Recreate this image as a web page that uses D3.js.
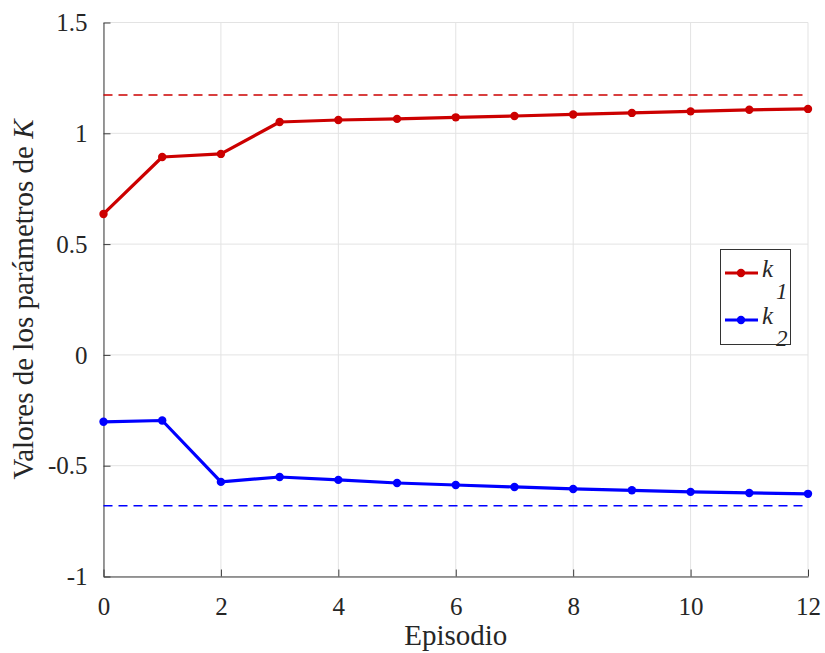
<!DOCTYPE html>
<html>
<head>
<meta charset="utf-8">
<script src="https://cdn.jsdelivr.net/npm/d3@7"></script>
</head>
<body>
<div id="chart"></div>
<script>
// data
var episodes = [0, 1, 2, 3, 4, 5, 6, 7, 8, 9, 10, 11, 12];
var k1 = [0.636, 0.893, 0.907, 1.051, 1.060, 1.065, 1.072, 1.078, 1.085, 1.092, 1.099, 1.106, 1.110];
var k2 = [-0.302, -0.296, -0.573, -0.551, -0.564, -0.578, -0.587, -0.596, -0.605, -0.611, -0.618, -0.623, -0.627];
var k1Ref = 1.173;
var k2Ref = -0.681;
var xTicks = [0, 2, 4, 6, 8, 10, 12];
var yTicks = [-1, -0.5, 0, 0.5, 1, 1.5];

function init() {
	d3.select("body").style("margin", "0px");
	var w = 825;
	var h = 653;
	var left = 103.5, right = 808, top = 22.5, bottom = 576.5;
	var red = "#cc0000";
	var blue = "#0000ff";
	var font = "Liberation Serif";
	var ink = "#262626";

	var xScale = d3.scaleLinear().domain([0, 12]).range([left, right]);
	var yScale = d3.scaleLinear().domain([-1, 1.5]).range([bottom, top]);

	var svg = d3.select("#chart").append("svg")
		.attr("width", w)
		.attr("height", h)
		.style("display", "block");

	// grid
	svg.append("g").selectAll("line")
		.data(xTicks)
		.enter().append("line")
		.attr("x1", function(d) { return xScale(d); })
		.attr("x2", function(d) { return xScale(d); })
		.attr("y1", top).attr("y2", bottom)
		.attr("stroke", "#e3e3e3").attr("stroke-width", 1);
	svg.append("g").selectAll("line")
		.data(yTicks)
		.enter().append("line")
		.attr("y1", function(d) { return yScale(d); })
		.attr("y2", function(d) { return yScale(d); })
		.attr("x1", left).attr("x2", right)
		.attr("stroke", "#e3e3e3").attr("stroke-width", 1);

	// axes
	var xAxis = d3.axisBottom(xScale).tickValues(xTicks).tickSizeInner(-7).tickSizeOuter(0).tickPadding(0)
		.tickFormat(d3.format("d"));
	var yAxis = d3.axisLeft(yScale).tickValues(yTicks).tickSizeInner(-7).tickSizeOuter(0).tickPadding(16)
		.tickFormat(function(d) { return String(d); });

	var gx = svg.append("g").attr("transform", "translate(0," + bottom + ")").call(xAxis);
	var gy = svg.append("g").attr("transform", "translate(" + left + ",0)").call(yAxis);
	[gx, gy].forEach(function(g) {
		g.attr("font-family", font).attr("font-size", 25);
		g.select(".domain").attr("stroke", "#3c3c3c").attr("stroke-width", 1);
		g.selectAll(".tick line").attr("stroke", "#3c3c3c");
		g.selectAll(".tick text").attr("fill", ink);
	});
	gx.selectAll(".tick text").attr("dy", null).attr("y", 38);
	gy.selectAll(".tick text").attr("dy", "0.33em");

	// reference lines
	[[k1Ref, red], [k2Ref, blue]].forEach(function(r) {
		svg.append("line")
			.attr("x1", left).attr("x2", right)
			.attr("y1", yScale(r[0])).attr("y2", yScale(r[0]))
			.attr("stroke", r[1]).attr("stroke-width", 1.6)
			.attr("stroke-dasharray", "9,6");
	});

	var line = d3.line()
		.x(function(d, i) { return xScale(episodes[i]); })
		.y(function(d) { return yScale(d); });

	[[k1, red], [k2, blue]].forEach(function(s) {
		svg.append("path").datum(s[0])
			.attr("d", line)
			.attr("fill", "none")
			.attr("stroke", s[1])
			.attr("stroke-width", 3.2)
			.attr("stroke-linejoin", "round");
		svg.append("g").selectAll("circle")
			.data(s[0])
			.enter().append("circle")
			.attr("cx", function(d, i) { return xScale(episodes[i]); })
			.attr("cy", function(d) { return yScale(d); })
			.attr("r", 4.2)
			.attr("fill", s[1]);
	});

	// axis labels
	svg.append("text")
		.attr("x", (left + right) / 2).attr("y", 645)
		.attr("text-anchor", "middle")
		.attr("font-size", 29)
		.attr("fill", ink)
		.text("Episodio");

	var yl = svg.append("text")
		.attr("transform", "translate(33," + ((top + bottom) / 2) + ") rotate(-90)")
		.attr("text-anchor", "middle")
		.attr("font-size", 29)
		.attr("fill", ink);
	yl.append("tspan").text("Valores de los parámetros de ");
	yl.append("tspan").attr("font-style", "italic").text("K");

	// legend
	var lg = svg.append("g");
	lg.append("rect")
		.attr("x", 720.5).attr("y", 249.5)
		.attr("width", 70).attr("height", 95)
		.attr("fill", "#fff").attr("stroke", "#333").attr("stroke-width", 1);
	var items = [["1", red, 273], ["2", blue, 320]];
	items.forEach(function(it) {
		lg.append("line")
			.attr("x1", 725).attr("x2", 758)
			.attr("y1", it[2]).attr("y2", it[2])
			.attr("stroke", it[1]).attr("stroke-width", 3.2);
		lg.append("circle").attr("cx", 741).attr("cy", it[2]).attr("r", 4.2).attr("fill", it[1]);
		lg.append("text").attr("x", 762).attr("y", it[2] + 4)
			.attr("font-size", 25)
			.attr("font-style", "italic").attr("fill", ink)
			.text("k");
		lg.append("text").attr("x", 776).attr("y", it[2] + 26)
			.attr("font-size", 23)
			.attr("font-style", "italic").attr("fill", ink)
			.text(it[0]);
	});

	// every text in the serif face
	svg.selectAll("text").attr("font-family", font)
		.style("font-family", "'Liberation Serif', 'Times New Roman', serif");
}

init();
</script>
</body>
</html>
